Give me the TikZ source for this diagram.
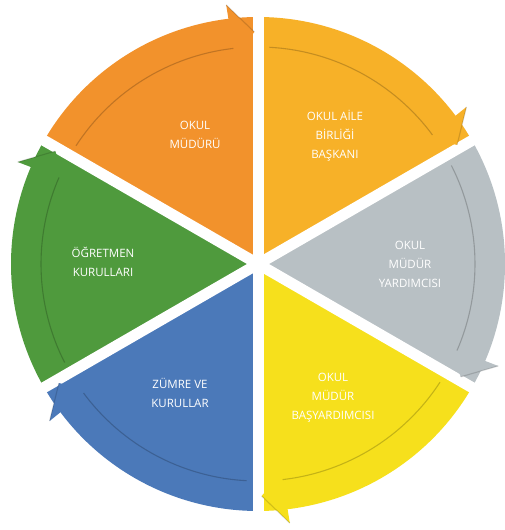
\documentclass[tikz,border=0pt]{standalone}
\usepackage{fontspec}
\usetikzlibrary{calc}
\setmainfont{Open Sans}
\definecolor{cOrange}{HTML}{F2922C}
\definecolor{cAmber}{HTML}{F7B128}
\definecolor{cGray}{HTML}{B8C0C4}
\definecolor{cYellow}{HTML}{F6E01C}
\definecolor{cBlue}{HTML}{4B79B9}
\definecolor{cGreen}{HTML}{4F9A3D}
\tikzset{
  lbl/.style={text=white, align=center, font=\fontsize{11.5}{19}\selectfont, inner sep=1pt},
  gapline/.style={white, line width=11pt},
  rimline/.style={black, opacity=0.2, line width=1.1pt}
}
\begin{document}
\begin{tikzpicture}[x=1pt,y=1pt]
\useasboundingbox (0,0) rectangle (504,530);
\fill[white] (0,0) rectangle (504,530);
\coordinate (C) at (258,266);
% wedges: start angle (clockwise end) / end angle / colour
\foreach \aa/\ab/\col in {90/150/cOrange, 30/90/cAmber, -30/30/cGray, -90/-30/cYellow, 210/270/cBlue, 150/210/cGreen}{
  \fill[\col] (C) -- ++(\aa:247) arc[start angle=\aa, end angle=\ab, radius=247] -- cycle;
}
% white gaps
\foreach \g in {30,90,150,210,270,330}{
  \draw[gapline] (C) -- ++(\g:275);
}
% arrowheads at the clockwise end of each band
\foreach \aa/\ab/\col in {90/150/cOrange, 30/90/cAmber, -30/30/cGray, -90/-30/cYellow, 210/270/cBlue, 150/210/cGreen}{
  \fill[\col] ($(C)+(\aa+6.5:210)$) -- ($(C)+(\aa+7:261)$) -- ($(C)+(\aa+0.9:232)$) -- cycle;
  \draw[rimline] ($(C)+(\ab-3:217)$) arc[start angle=\ab-3, end angle=\aa+6.5, radius=217];
  \draw[rimline, opacity=0.15] ($(C)+(\aa+7:261)$) -- ($(C)+(\aa+0.9:232)$);
}
\node[lbl] (n1) at (195,395) {OKUL\\MÜDÜRÜ};
\node[lbl] (n2) at (335,394) {OKUL AİLE\\BİRLİĞİ\\BAŞKANI};
\node[lbl] (n3) at (410,266) {OKUL\\MÜDÜR\\YARDIMCISI};
\node[lbl] (n4) at (333,132) {OKUL\\MÜDÜR\\BAŞYARDIMCISI};
\node[lbl] (n5) at (180,137) {ZÜMRE VE\\KURULLAR};
\node[lbl] (n6) at (103,268) {ÖĞRETMEN\\KURULLARI};
\end{tikzpicture}
\end{document}
